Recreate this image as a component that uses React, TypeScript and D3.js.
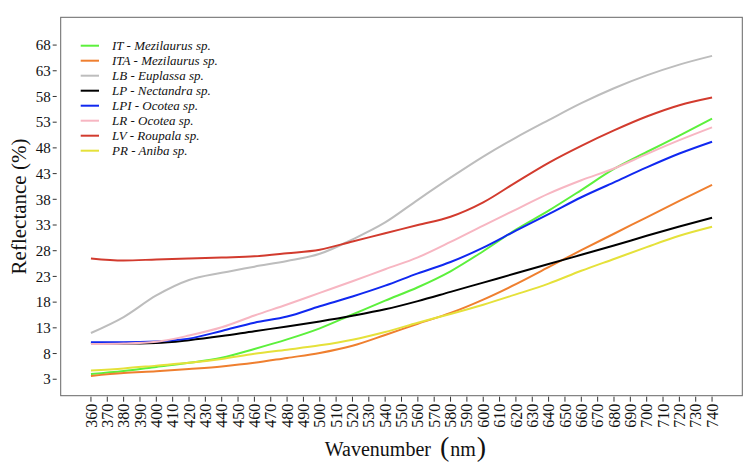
import * as d3 from "d3"

// wavelengths (nm) at which the curves were read
const wavelengths = [360, 380, 400, 420, 440, 460, 480, 500, 520, 540, 560, 580, 600, 620, 640, 660, 680, 700, 720, 740]

const itValues = [4.0, 4.6, 5.4, 6.2, 7.2, 8.9, 10.75, 12.9, 15.6, 18.3, 20.9, 24.0, 27.9, 32.1, 35.8, 39.8, 43.9, 47.2, 50.4, 53.7]
const itaValues = [3.65, 4.2, 4.55, 5.0, 5.5, 6.2, 7.15, 8.1, 9.5, 11.6, 13.8, 15.9, 18.5, 21.5, 24.8, 28.1, 31.3, 34.5, 37.7, 40.8]
const lbValues = [12.0, 15.1, 19.3, 22.3, 23.7, 24.9, 26.0, 27.4, 30.2, 33.5, 37.9, 42.2, 46.3, 50.0, 53.4, 56.7, 59.6, 62.1, 64.2, 65.9]
const lpValues = [10.0, 9.95, 10.05, 10.6, 11.4, 12.35, 13.25, 14.25, 15.35, 16.6, 18.2, 20.0, 21.8, 23.6, 25.4, 27.2, 29.0, 30.9, 32.7, 34.4]
const lpiValues = [10.2, 10.2, 10.35, 10.9, 12.4, 14.0, 15.2, 17.2, 19.1, 21.2, 23.6, 25.8, 28.6, 31.9, 35.1, 38.4, 41.3, 44.2, 46.9, 49.2]
const lrValues = [9.85, 9.95, 10.3, 11.5, 13.1, 15.4, 17.55, 19.8, 22.05, 24.4, 26.7, 29.7, 32.9, 36.0, 39.1, 41.7, 44.0, 46.8, 49.5, 52.0]
const lvValues = [26.5, 26.1, 26.3, 26.5, 26.7, 26.9, 27.5, 28.2, 29.8, 31.4, 33.0, 34.6, 37.4, 41.3, 45.1, 48.4, 51.4, 54.1, 56.3, 57.8]
const prValues = [4.7, 5.1, 5.65, 6.2, 6.95, 7.95, 8.75, 9.6, 10.7, 12.2, 14.0, 15.7, 17.5, 19.5, 21.6, 24.1, 26.4, 28.7, 30.9, 32.65]

const seriesLabels = [
  "IT - Mezilaurus sp.",
  "ITA - Mezilaurus sp.",
  "LB - Euplassa sp.",
  "LP - Nectandra sp.",
  "LPI - Ocotea sp.",
  "LR - Ocotea sp.",
  "LV - Roupala sp.",
  "PR - Aniba sp.",
]
const seriesValues = [itValues, itaValues, lbValues, lpValues, lpiValues, lrValues, lvValues, prValues]
const seriesColors = ["#5cf03c", "#ef7f2f", "#bdbdbd", "#000000", "#1028f0", "#f7b6c2", "#d23b2e", "#e5e13a"]

const xTicks = [360, 370, 380, 390, 400, 410, 420, 430, 440, 450, 460, 470, 480, 490, 500, 510, 520, 530, 540, 550,
  560, 570, 580, 590, 600, 610, 620, 630, 640, 650, 660, 670, 680, 690, 700, 710, 720, 730, 740]
const yTicks = [3, 8, 13, 18, 23, 28, 33, 38, 43, 48, 53, 58, 63, 68]

const font = "Liberation Serif, serif"

export default function App() {
  const width = 754
  const height = 464
  const margin = { top: 17.3, right: 11.7, bottom: 68.3, left: 60.7 }
  const left = margin.left
  const right = width - margin.right
  const top = margin.top
  const bottom = height - margin.bottom

  const x = d3.scaleLinear().domain([341.5, 758.5]).range([left, right])
  const y = d3.scaleLinear().domain([-0.2, 73.4]).range([bottom, top])

  const line = d3
    .line<[number, number]>()
    .x((d) => x(d[0]))
    .y((d) => y(d[1]))
    .curve(d3.curveMonotoneX)

  const textStyle = { fontFamily: font }

  return (
    <svg
      width={width}
      height={height}
      style={{ position: "absolute", left: 0, top: 0, background: "#fff", fontFamily: font }}
    >
      <rect x={0} y={0} width={width} height={height} fill="#fff" />

      {/* lines */}
      {seriesValues.map((vals, i) => (
        <path
          key={seriesLabels[i]}
          d={line(wavelengths.map((w, j) => [w, vals[j]] as [number, number])) || ""}
          fill="none"
          stroke={seriesColors[i]}
          strokeWidth={2}
        />
      ))}

      {/* panel border */}
      <rect x={left} y={top} width={right - left} height={bottom - top} fill="none" stroke="#666" strokeWidth={1} />

      {/* y axis */}
      {yTicks.map((t) => (
        <g key={t}>
          <line x1={left - 8} x2={left - 4} y1={y(t)} y2={y(t)} stroke="#333" strokeWidth={1} />
          <text x={left - 10} y={y(t)} dy="0.35em" textAnchor="end" fontSize={15} fill="#111" style={textStyle}>
            {t}
          </text>
        </g>
      ))}

      {/* x axis */}
      {xTicks.map((t) => (
        <g key={t}>
          <line x1={x(t)} x2={x(t)} y1={bottom + 1} y2={bottom + 6} stroke="#333" strokeWidth={1} />
          <text
            transform={`translate(${x(t)},${bottom + 8}) rotate(-90)`}
            dy="0.35em"
            textAnchor="end"
            fontSize={16}
            fill="#111"
            style={textStyle}
          >
            {t}
          </text>
        </g>
      ))}

      {/* axis titles */}
      <text
        transform={`translate(26,${(top + bottom) / 2}) rotate(-90)`}
        textAnchor="middle"
        fontSize={21}
        fill="#111"
        style={textStyle}
      >
        Reflectance (%)
      </text>
      <text x={(left + right) / 2 + 4} y={456} textAnchor="middle" fontSize={20} fill="#111" style={textStyle}>
        Wavenumber
        <tspan dx={9} fontSize={28}>(</tspan>
        <tspan dx={1}>nm</tspan>
        <tspan dx={1} fontSize={28}>)</tspan>
      </text>

      {/* legend */}
      {seriesLabels.map((label, i) => {
        const ly = 45.7 + i * 15
        return (
          <g key={label}>
            <line x1={80.7} x2={99} y1={ly} y2={ly} stroke={seriesColors[i]} strokeWidth={2} />
            <text x={112} y={ly} dy="0.35em" fontSize={13} fontStyle="italic" fill="#111" style={textStyle}>
              {label}
            </text>
          </g>
        )
      })}
    </svg>
  )
}
